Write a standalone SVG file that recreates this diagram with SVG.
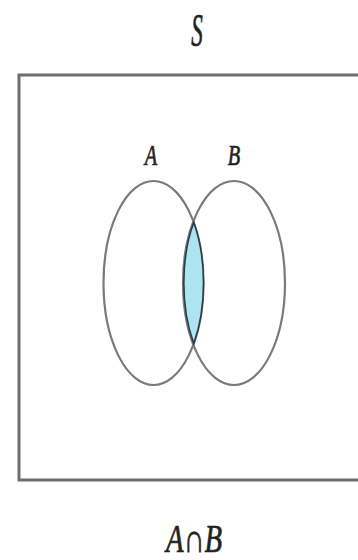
<svg xmlns="http://www.w3.org/2000/svg" width="358" height="560" viewBox="0 0 358 560">
<style>
.lbl{font-family:"Liberation Serif","Times New Roman",serif;font-style:italic;fill:#222;stroke:#222;stroke-width:0.7;text-anchor:middle}
.set{fill:none;stroke:#7a7a7a;stroke-width:2.2}
</style>
<rect width="358" height="560" fill="#ffffff"/>
<g id="universe">
<path d="M370,75 H19 V480 H370" fill="none" stroke="#6f6f6f" stroke-width="3"/>
<text class="lbl" transform="translate(197,46) scale(0.5,1)" font-size="46">S</text>
</g>
<g id="setA">
<ellipse class="set" cx="153.5" cy="283" rx="50" ry="102"/>
<text class="lbl" transform="translate(151,165) scale(0.7,1)" font-size="29">A</text>
</g>
<g id="setB">
<ellipse class="set" cx="234" cy="283" rx="51" ry="102"/>
<text class="lbl" transform="translate(234,165) scale(0.7,1)" font-size="29">B</text>
</g>
<g id="intersection">
<path d="M193.75,222.5 A51,102 0 0,0 193.75,343.5 A50,102 0 0,0 193.75,222.5 Z" fill="#aee4f0" stroke="#24404e" stroke-width="1.6"/>
<text class="lbl" transform="translate(194,552) scale(0.72,1)" font-size="40">A∩B</text>
</g>
</svg>
